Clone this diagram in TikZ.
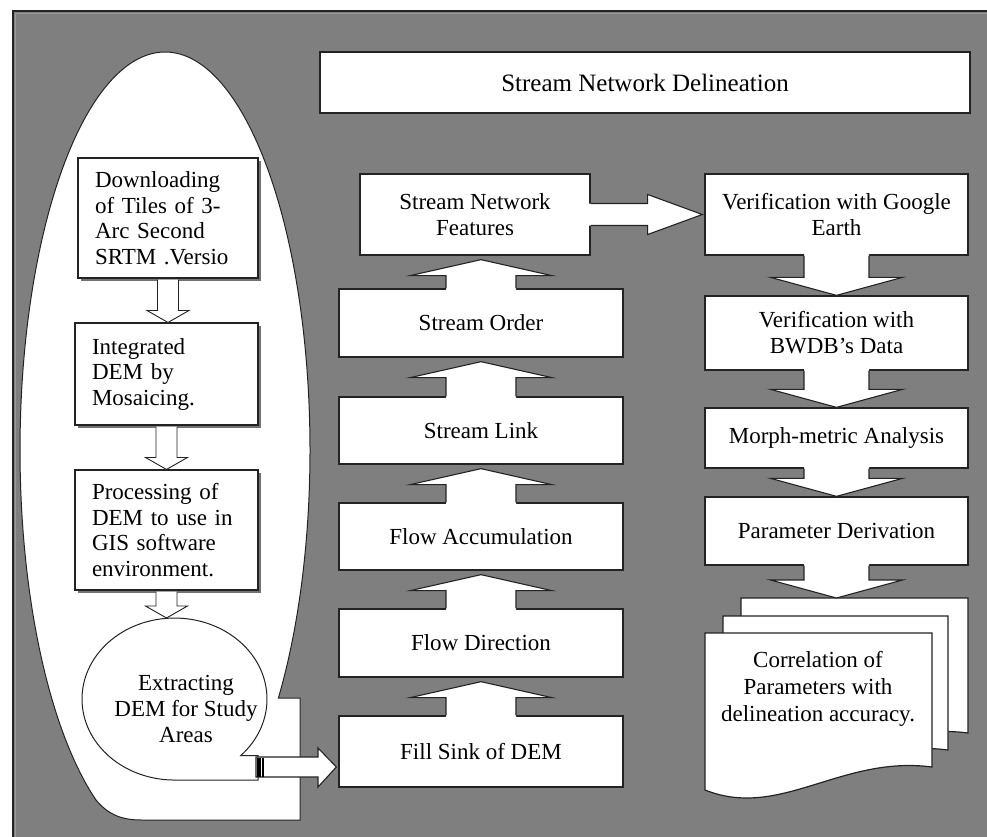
\documentclass[tikz,border=0pt]{standalone}
\usepackage{fontspec}
\setmainfont{Liberation Serif}
\usetikzlibrary{calc,shadows}
\definecolor{bggray}{RGB}{127,127,127}
\definecolor{edge}{RGB}{35,35,35}
\newcommand\UpArr[2]{% #1 lower node, #2 point on upper box bottom
  \fill[white] ($(#1.north)+(-35,2)$) -- ($(#1.north |- #2)+(-35,20)$) -- ($(#1.north |- #2)+(-71,20)$) -- ($(#1.north |- #2)+(0,4)$) -- ($(#1.north |- #2)+(71,20)$) -- ($(#1.north |- #2)+(35,20)$) -- ($(#1.north)+(35,2)$) -- cycle;
  \draw[arr] ($(#1.north)+(-35,0)$) -- ($(#1.north |- #2)+(-35,20)$) -- ($(#1.north |- #2)+(-71,20)$) -- ($(#1.north |- #2)+(0,4)$) -- ($(#1.north |- #2)+(71,20)$) -- ($(#1.north |- #2)+(35,20)$) -- ($(#1.north)+(35,0)$);}
\newcommand\DownArr[2]{% #1 upper node, #2 point on lower box top
  \fill[white] ($(#1.south)+(-32.5,-2)$) -- ($(#1.south |- #2)+(-32.5,-18)$) -- ($(#1.south |- #2)+(-66,-18)$) -- ($(#1.south |- #2)+(0,0)$) -- ($(#1.south |- #2)+(66,-18)$) -- ($(#1.south |- #2)+(32.5,-18)$) -- ($(#1.south)+(32.5,-2)$) -- cycle;
  \draw[arr] ($(#1.south)+(-32.5,0)$) -- ($(#1.south |- #2)+(-32.5,-18)$) -- ($(#1.south |- #2)+(-66,-18)$) -- ($(#1.south |- #2)+(0,0)$) -- ($(#1.south |- #2)+(66,-18)$) -- ($(#1.south |- #2)+(32.5,-18)$) -- ($(#1.south)+(32.5,0)$);}
\newcommand\LDownArr[2]{% #1 upper node, #2 point on lower shape top
  \draw[larr] ($(#1.south)+(-10.5,1)$) -- ($(#1.south |- #2)+(-10.5,-12)$) -- ($(#1.south |- #2)+(-21,-12)$) -- ($(#1.south |- #2)+(0,0)$) -- ($(#1.south |- #2)+(21,-12)$) -- ($(#1.south |- #2)+(10.5,-12)$) -- ($(#1.south)+(10.5,1)$);}
\begin{document}
\begin{tikzpicture}[x=1pt,y=-1pt,
  box/.style={draw=edge, line width=1.3pt, fill=white, align=center, inner sep=0pt,
    font=\fontsize{23}{26}\selectfont},
  lbox/.style={draw=edge, line width=1.1pt, fill=white, align=left, inner xsep=17pt, inner ysep=0pt,
    text width=#1, font=\fontsize{23}{25.5}\selectfont,
    drop shadow={shadow xshift=2.5pt, shadow yshift=-2.5pt, fill=black!55, opacity=1}},
  arr/.style={draw=edge, line width=1.1pt, line join=miter},
  larr/.style={draw=edge, line width=0.9pt, fill=white, line join=miter},
  txt/.style={font=\fontsize{23}{26}\selectfont, align=center, inner sep=0pt},
  docst/.style={draw=edge, line width=1.2pt, fill=white},
  blob/.style={draw=edge, line width=1pt, fill=white}
]
\useasboundingbox (0,0) rectangle (987,836);
% frame
\fill[white] (0,0) rectangle (987,836);
\fill[bggray] (13,11) rectangle (990,840);
\draw[line width=2.5pt, draw=edge] (13,840) -- (13,11) -- (990,11);
\draw[line width=1pt, draw=black!40] (15.5,840) -- (15.5,13.5) -- (990,13.5);

% title
\node[box, minimum width=650pt, minimum height=61pt, font=\fontsize{25}{28}\selectfont] (title) at (645,82.5) {Stream Network Delineation};

% big left container
\draw[blob] (300,698) -- (278.4,698) arc[start angle=38.55, end angle=-241.6, x radius=145, y radius=398]
  .. controls (108,814) and (120,820) .. (142,820) -- (300,820) -- cycle;

% left boxes
\node[lbox=146pt, minimum height=120pt] (B1) at (168,218) {Downloading\\of Tiles of 3-\\Arc Second\\SRTM .Versio};
\node[lbox=149pt, minimum height=102pt] (B2) at (166.5,374) {Integrated\\DEM by\\Mosaicing.};
\node[lbox=149pt, minimum height=120pt] (B3) at (166.5,530) {Processing of\\DEM to use in\\GIS software\\environment.};

% sequential-data shape
\draw[blob] (258,755.6) -- (240.7,755.6) arc[start angle=44.3, end angle=-270, x radius=92.5, y radius=81] -- (258,780) -- cycle;
\node[txt] (ext) at (186,709) {Extracting\\DEM for Study\\Areas};
\coordinate (exttop) at (168,618);
\coordinate (exttail) at (256,767);

\LDownArr{B1}{B2.north}
\LDownArr{B2}{B3.north}
\LDownArr{B3}{exttop}

% middle column
\node[box, minimum width=230pt, minimum height=81pt] (SNF) at (475,214.5) {Stream Network\\Features};
\node[box, minimum width=284pt, minimum height=68pt] (SO) at (481,323) {Stream Order};
\node[box, minimum width=284pt, minimum height=67pt] (SL) at (481,430.5) {Stream Link};
\node[box, minimum width=284pt, minimum height=67pt] (FA) at (481,536.5) {Flow Accumulation};
\node[box, minimum width=284pt, minimum height=68pt] (FD) at (481,643) {Flow Direction};
\node[box, minimum width=284pt, minimum height=71pt] (FS) at (481,751.5) {Fill Sink of DEM};

\UpArr{SO}{SNF.south}
\UpArr{SL}{SO.south}
\UpArr{FA}{SL.south}
\UpArr{FD}{FA.south}
\UpArr{FS}{FD.south}

% arrow from extracting shape to Fill Sink
\draw[arr, fill=white] (exttail |- 0,757) -- (318,757) -- (318,748) -- ($(FS.west |- exttail)+(-2,0)$) -- (318,787) -- (318,777) -- (exttail |- 0,777) -- cycle;
\draw[line width=3.5pt, draw=black] ($(exttail)+(3,-9.5)$) -- ($(exttail)+(3,9.5)$);
\draw[line width=1.4pt, draw=black] ($(exttail)+(7,-9.5)$) -- ($(exttail)+(7,9.5)$);

% right column
\node[box, minimum width=263pt, minimum height=81pt] (VGE) at (836.5,214.5) {Verification with Google\\Earth};
\node[box, minimum width=263pt, minimum height=74pt] (VBD) at (836.5,333) {Verification with\\BWDB’s Data};
\node[box, minimum width=263pt, minimum height=60pt] (MA) at (836.5,438) {Morph-metric Analysis};
\node[box, minimum width=263pt, minimum height=68pt] (PD) at (836.5,531) {Parameter Derivation};

% SNF -> VGE
\fill[white] ($(SNF.east)+(-2,-11)$) -- ($(SNF.east)+(57,-11)$) -- ($(SNF.east)+(57,-20)$) -- ($(VGE.west)+(-2,0)$) -- ($(SNF.east)+(57,20)$) -- ($(SNF.east)+(57,11)$) -- ($(SNF.east)+(-2,11)$) -- cycle;
\draw[arr] ($(SNF.east)+(0,-11)$) -- ($(SNF.east)+(57,-11)$) -- ($(SNF.east)+(57,-20)$) -- ($(VGE.west)+(-2,0)$) -- ($(SNF.east)+(57,20)$) -- ($(SNF.east)+(57,11)$) -- ($(SNF.east)+(0,11)$);

% multi-document
\draw[docst] (741,756) -- (741,598) -- (968,598) -- (968,733) .. controls (877,721) and (816,786) .. (741,756) -- cycle;
\draw[docst] (723,773) -- (723,616) -- (948,616) -- (948,750) .. controls (858,738) and (797,803) .. (723,773) -- cycle;
\draw[docst] (705,790) -- (705,633) -- (932,633) -- (932,767) .. controls (841,755) and (780,820) .. (705,790) -- cycle;
\coordinate (docB) at (741,598);
\node[txt, font=\fontsize{23}{27}\selectfont] (corr) at (818,689) {Correlation of\\Parameters with\\delineation accuracy.};

\DownArr{VGE}{VBD.north}
\DownArr{VBD}{MA.north}
\DownArr{MA}{PD.north}
\DownArr{PD}{docB}
\end{tikzpicture}
\end{document}
